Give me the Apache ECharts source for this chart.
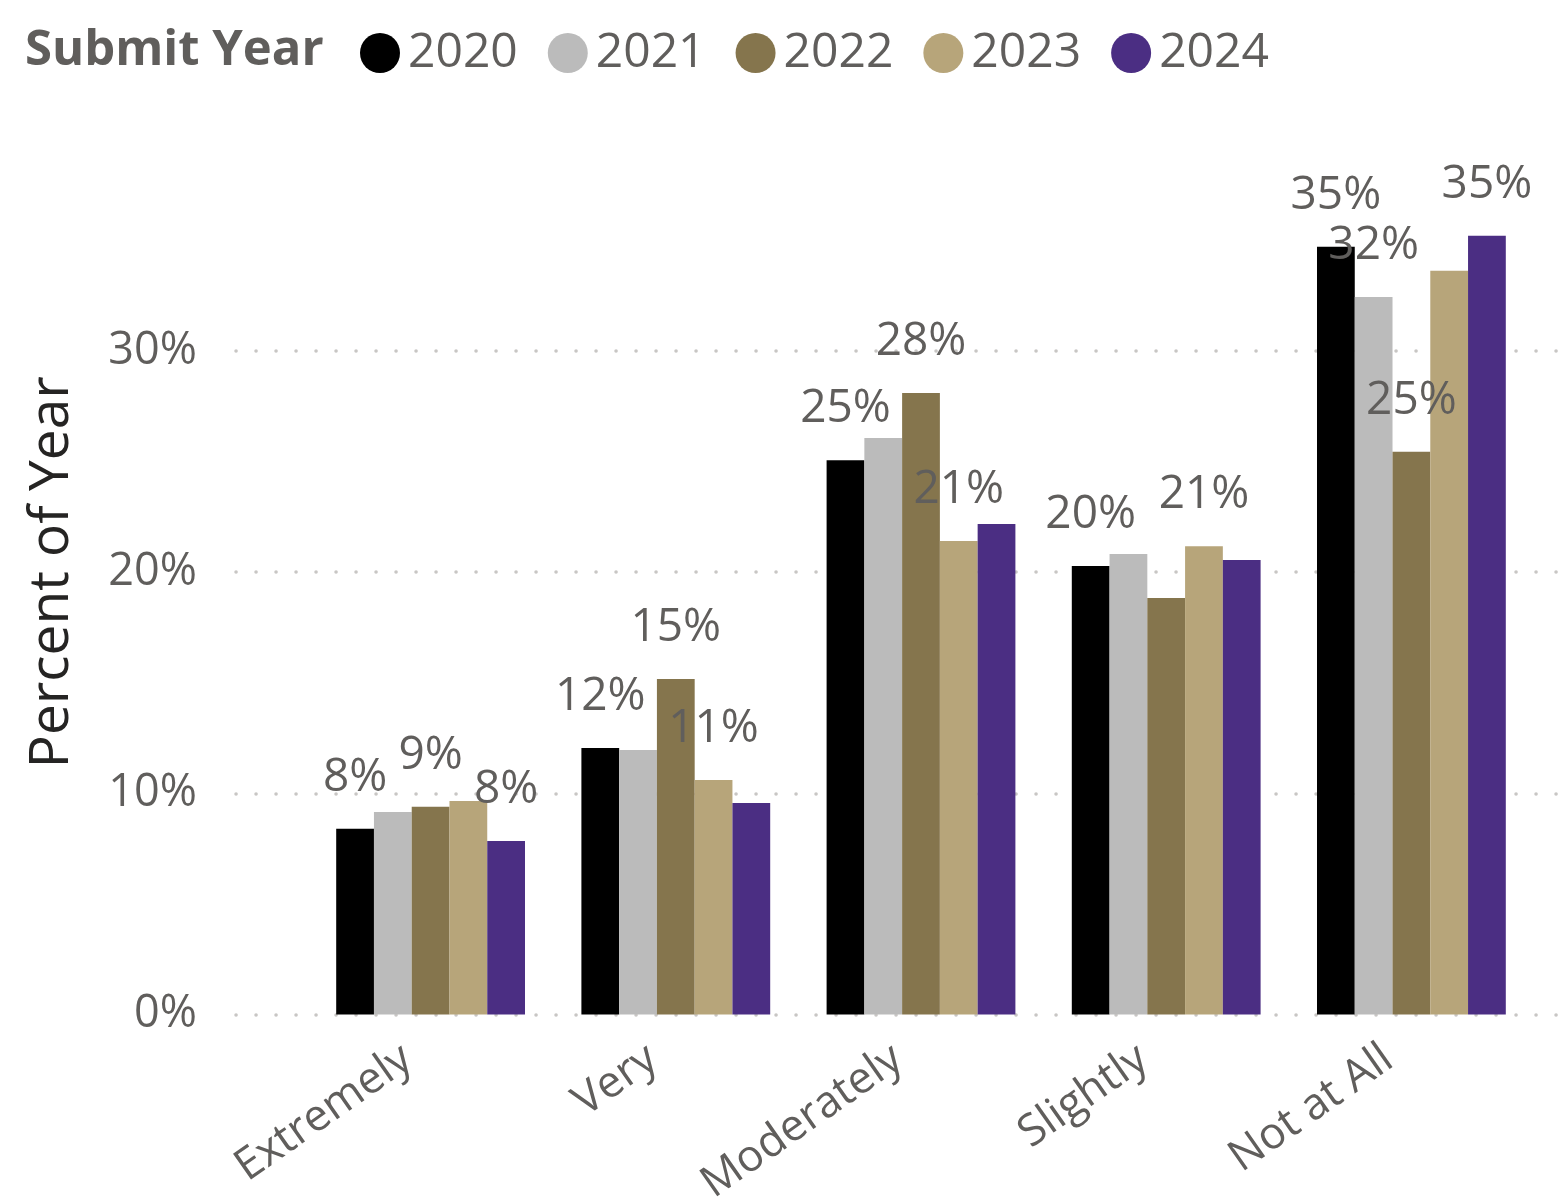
<!DOCTYPE html>
<html>
<head>
<meta charset="utf-8">
<script src="https://cdn.jsdelivr.net/npm/echarts@6/dist/echarts.min.js"></script>
<style>
  html, body { margin: 0; padding: 0; background: #ffffff; }
  #chart { width: 1564px; height: 1200px; }
</style>
</head>
<body>
<div id="chart"></div>
<script>
// ---- data (percent of year) ----
const categories = ['Extremely', 'Very', 'Moderately', 'Slightly', 'Not at All'];
const years = ['2020', '2021', '2022', '2023', '2024'];
const v2020 = [8.40, 12.05, 25.07, 20.28, 34.72];
const v2021 = [9.16, 11.96, 26.07, 20.82, 32.45];
const v2022 = [9.39, 15.17, 28.11, 18.83, 25.45];
const v2023 = [9.66, 10.61, 21.41, 21.18, 33.64];
const v2024 = [7.85, 9.56, 22.18, 20.55, 35.22];
const yTicks = [0, 10, 20, 30];
// which data labels are visible in the original (per year, per category)
const shown2020 = [true, true, true, true, true];
const shown2021 = [false, false, false, false, true];
const shown2022 = [true, true, true, false, true];
const shown2023 = [false, true, true, true, false];
const shown2024 = [true, false, false, false, true];

const seriesValues = [v2020, v2021, v2022, v2023, v2024];
const seriesShown = [shown2020, shown2021, shown2022, shown2023, shown2024];
const colors = ['#000000', '#BBBBBB', '#85754D', '#B7A57A', '#4B2E83'];

const FONT = '"Open Sans", "Noto Sans", sans-serif';
const GRAY = '#605E5C';

const series = years.map((y, i) => ({
  name: y,
  type: 'bar',
  xAxisIndex: 1,
  yAxisIndex: 1,
  barGap: '0%',
  barCategoryGap: '23%',
  itemStyle: { color: colors[i] },
  label: {
    show: false,
    position: 'top',
    distance: 28,
    color: GRAY,
    fontFamily: FONT,
    fontSize: 46,
    lineHeight: 46,
    formatter: p => Math.round(p.value) + '%'
  },
  data: seriesValues[i].map((v, j) => ({
    value: v,
    label: { show: seriesShown[i][j] }
  }))
}));

const chart = echarts.init(document.getElementById('chart'), null, { renderer: 'canvas' });
chart.setOption({
  animation: false,
  backgroundColor: '#ffffff',
  color: colors,
  title: {
    text: 'Submit Year',
    left: 20,
    top: 20,
    textStyle: { fontFamily: FONT, fontWeight: 'bold', fontSize: 49, color: GRAY, lineHeight: 52 }
  },
  legend: {
    left: 355,
    top: 24,
    icon: 'circle',
    itemWidth: 40,
    itemHeight: 40,
    itemGap: 30,
    data: years,
    textStyle: { fontFamily: FONT, fontSize: 48, color: GRAY, padding: [0, 0, 0, 3] }
  },
  grid: [
    { left: 236, right: 4, top: 351, bottom: 185.5, containLabel: false, outerBoundsMode: 'none' },
    { left: 308, right: 30, top: 130, bottom: 185.5, containLabel: false, outerBoundsMode: 'none' }
  ],
  xAxis: [
    { type: 'value', gridIndex: 0, show: false, min: 0, max: 1 },
    {
      type: 'category',
      gridIndex: 1,
      data: categories,
      axisLine: { show: false },
      axisTick: { show: false },
      axisLabel: {
        rotate: 35,
        margin: 24,
        color: GRAY,
        fontFamily: FONT,
        fontSize: 44,
        padding: [0, 28, 0, 0]
      }
    }
  ],
  yAxis: [
    {
      type: 'value',
      gridIndex: 0,
      min: yTicks[0],
      max: yTicks[yTicks.length - 1],
      interval: 10,
      axisLine: { show: false },
      axisTick: { show: false },
      axisLabel: {
        margin: 39,
        color: GRAY,
        fontFamily: FONT,
        fontSize: 45,
        formatter: v => v + '%'
      },
      splitLine: {
        show: true,
        lineStyle: { color: '#C8C6C4', width: 3.5, type: [0.1, 19.9], cap: 'round' }
      }
    },
    {
      type: 'value',
      gridIndex: 1,
      min: 0,
      max: 40,
      interval: 10,
      name: 'Percent of Year',
      nameLocation: 'middle',
      nameGap: 228,
      nameTextStyle: { fontFamily: FONT, fontSize: 55, color: '#252423' },
      axisLine: { show: false },
      axisTick: { show: false },
      axisLabel: { show: false },
      splitLine: { show: false }
    }
  ],
  series: series
});
</script>
</body>
</html>
